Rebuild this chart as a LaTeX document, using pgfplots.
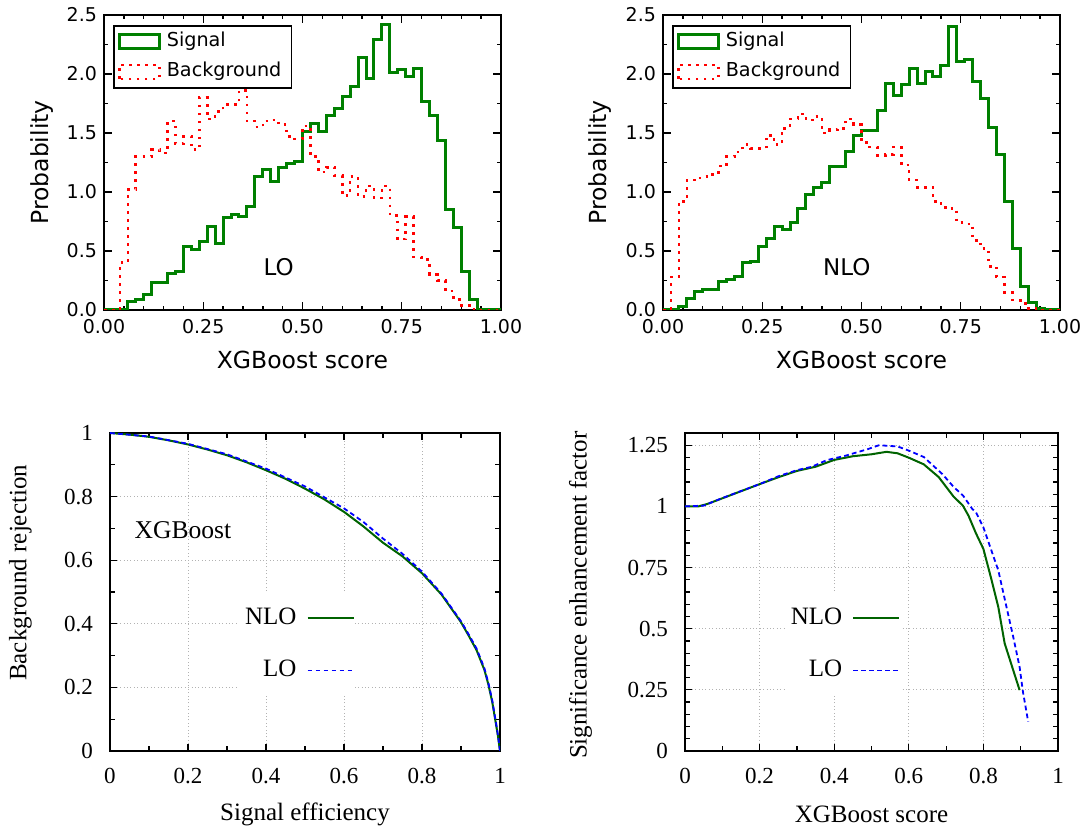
\documentclass[border=0pt]{standalone}
\usepackage{fontspec}
\usepackage{pgfplots}
\usepackage{pgfplotstable}
\pgfplotsset{compat=1.18}
\newfontfamily\djv{DejaVu Sans}
\newfontfamily\tms{Liberation Serif}
\definecolor{mplgreen}{rgb}{0,0.5,0}
\definecolor{gpgreen}{rgb}{0,0.39,0}

% left bin edge, signal LO, background LO, signal NLO, background NLO
\pgfplotstableread{
x    sl    bl    sn    bn
0.00 0     0     0     0
0.02 0     0     0     0.28
0.04 0     0.40  0.03  0.92
0.06 0.07  1.02  0.10  1.10
0.08 0.085 1.30  0.16  1.12
0.10 0.13  1.30  0.17  1.13
0.12 0.23  1.36  0.17  1.15
0.14 0.23  1.33  0.24  1.22
0.16 0.31  1.60  0.26  1.30
0.18 0.33  1.41  0.28  1.34
0.20 0.54  1.47  0.40  1.40
0.22 0.51  1.36  0.41  1.37
0.24 0.58  1.80  0.54  1.37
0.26 0.71  1.62  0.61  1.48
0.28 0.56  1.68  0.71  1.40
0.30 0.78  1.74  0.68  1.54
0.32 0.81  1.74  0.74  1.62
0.34 0.79  1.86  0.86  1.66
0.36 0.88  1.60  0.98  1.61
0.38 1.13  1.55  1.04  1.64
0.40 1.19  1.60  1.08  1.50
0.42 1.09  1.61  1.22  1.53
0.44 1.21  1.57  1.22  1.54
0.46 1.24  1.47  1.34  1.62
0.48 1.26  1.45  1.48  1.57
0.50 1.51  1.56  1.52  1.42
0.52 1.58  1.30  1.52  1.38
0.54 1.51  1.17  1.69  1.31
0.56 1.65  1.21  1.92  1.32
0.58 1.71  1.14  1.82  1.38
0.60 1.81  0.97  1.91  1.23
0.62 1.89  1.13  2.05  1.10
0.64 2.14  0.96  1.92  1.04
0.66 1.96  1.05  2.02  1.04
0.68 2.29  0.95  1.98  0.92
0.70 2.42  1.05  2.07  0.87
0.72 2.01  0.80  2.40  0.86
0.74 2.04  0.60  2.11  0.74
0.76 1.98  0.79  2.12  0.73
0.78 2.05  0.45  1.94  0.59
0.80 1.77  0.43  1.79  0.52
0.82 1.65  0.30  1.55  0.37
0.84 1.44  0.25  1.32  0.28
0.86 0.85  0.16  0.92  0.15
0.88 0.70  0.09  0.52  0.085
0.90 0.33  0.04  0.20  0.056
0.92 0.085 0.01  0.06  0.014
0.94 0     0     0.01  0
0.96 0     0     0.005 0
0.98 0     0     0.005 0
1.00 0     0     0     0
}\hist

\pgfplotstableread{
x     nlo
0     1.000
0.05  0.995
0.10  0.988
0.15  0.977
0.20  0.964
0.25  0.948
0.30  0.930
0.35  0.908
0.40  0.883
0.45  0.856
0.50  0.825
0.55  0.791
0.60  0.752
0.65  0.706
0.70  0.655
0.75  0.612
0.80  0.559
0.85  0.492
0.90  0.405
0.92  0.362
0.94  0.317
0.96  0.255
0.97  0.210
0.98  0.155
0.99  0.082
0.995 0.045
1.00  0.000
}\rocnlo

\pgfplotstableread{
x     lo
0     1.000
0.10  0.989
0.20  0.966
0.30  0.933
0.40  0.888
0.50  0.832
0.60  0.763
0.65  0.720
0.70  0.668
0.75  0.620
0.80  0.564
0.85  0.495
0.90  0.408
0.92  0.366
0.94  0.322
0.96  0.260
0.97  0.215
0.98  0.160
0.99  0.087
0.995 0.048
1.00  0.000
}\roclo

\pgfplotstableread{
x     nlo
0     1.000
0.036 1.000
0.06  1.010
0.10  1.033
0.15  1.062
0.20  1.091
0.25  1.119
0.30  1.145
0.35  1.162
0.40  1.190
0.45  1.205
0.50  1.213
0.54  1.223
0.57  1.217
0.60  1.199
0.64  1.172
0.68  1.120
0.72  1.040
0.745 1.003
0.76  0.962
0.78  0.890
0.80  0.826
0.82  0.710
0.84  0.588
0.857 0.440
0.88  0.330
0.897 0.249
}\signlo

\pgfplotstableread{
x     lo
0     1.000
0.05  1.003
0.10  1.034
0.20  1.091
0.25  1.123
0.30  1.148
0.34  1.162
0.38  1.189
0.43  1.207
0.49  1.234
0.52  1.250
0.57  1.245
0.60  1.228
0.64  1.202
0.69  1.132
0.72  1.080
0.746 1.043
0.77  0.990
0.78  0.976
0.80  0.914
0.82  0.826
0.84  0.738
0.862 0.588
0.88  0.466
0.897 0.344
0.906 0.242
0.92  0.120
}\siglo

\pgfplotsset{
  histax/.style={
    scale only axis, width=198.5pt, height=147.5pt,
    xmin=0, xmax=1, ymin=0, ymax=2.5,
    xtick={0,0.25,0.5,0.75,1}, xticklabels={0.00,0.25,0.50,0.75,1.00},
    ytick={0,0.5,1,1.5,2,2.5}, yticklabels={0.0,0.5,1.0,1.5,2.0,2.5},
    minor x tick num=4, minor y tick num=1,
    tick align=inside,
    axis line style={line width=1.1pt},
    major tick length=4pt, minor tick length=2pt,
    every tick/.style={black, line width=0.7pt},
    tick label style={font=\djv\fontsize{9.5}{11}\selectfont},
    xticklabel style={yshift=-1pt},
    label style={font=\djv\fontsize{11.75}{13}\selectfont},
    xlabel={XGBoost score}, ylabel={Probability},
    xlabel style={at={(axis description cs:0.5,-0.17)}, anchor=center},
    legend image code/.code={\draw[##1] (0pt,-3.5pt) rectangle (20pt,3.5pt);},
    legend cell align=left,
    legend style={at={(rel axis cs:0.0227,0.966)}, anchor=north west,
      draw=black, line width=0.8pt, inner xsep=2pt, inner ysep=1.5pt,
      font=\djv\fontsize{9.6}{11}\selectfont, row sep=2pt,
      nodes={inner xsep=3pt, inner ysep=2pt, text height=7pt, text depth=2pt}},
  },
  sigst/.style={mplgreen, line width=1.5pt, const plot},
  bkgst/.style={red, line width=1.3pt, dash pattern=on 1.3pt off 2.7pt, const plot},
  gpax/.style={
    scale only axis, height=159pt,
    xmin=0, xmax=1, ymin=0,
    xtick={0,0.2,0.4,0.6,0.8,1}, xticklabels={0,0.2,0.4,0.6,0.8,1},
    minor x tick num=1,
    tick align=inside,
    axis line style={line width=0.9pt},
    major tick length=3.5pt, minor tick length=2.5pt,
    every tick/.style={black, line width=0.6pt},
    grid=major, grid style={gray!60, line width=0.4pt, dash pattern=on 0.5pt off 1.2pt},
    tick label style={font=\tms\fontsize{11.5}{13}\selectfont},
    xticklabel style={yshift=-5pt},
    yticklabel style={xshift=-5pt},
    label style={font=\tms\fontsize{12.5}{14}\selectfont},
    xlabel style={at={(axis description cs:0.5,-0.2)}, anchor=center},
    legend plot pos=right,
    legend cell align=right,
    legend image code/.code={\draw[##1] (0pt,0pt) -- (23pt,0pt);},
    legend style={anchor=north east, draw=none, fill=white, inner sep=0pt,
      font=\tms\fontsize{12.5}{14}\selectfont, row sep=0pt, column sep=2pt,
      nodes={inner xsep=3pt, inner ysep=7pt, text height=9pt, text depth=3pt}},
  },
  nlost/.style={gpgreen, line width=1pt},
  lost/.style={blue, line width=0.9pt, dash pattern=on 2.4pt off 1.6pt},
}

\begin{document}
\begin{tikzpicture}
% top left: LO histograms
\begin{axis}[histax, at={(52pt,260pt)}, anchor=south west,
  ylabel style={at={(axis description cs:-0.157,0.5)}, anchor=center}]
\addplot[sigst] table[x=x, y=sl] {\hist};
\addlegendentry{Signal}
\addplot[bkgst] table[x=x, y=bl] {\hist};
\addlegendentry{Background}
\node[font=\djv\fontsize{11.5}{13}\selectfont] at (rel axis cs:0.44,0.146) {LO};
\end{axis}

% top right: NLO histograms
\begin{axis}[histax, at={(331.5pt,260pt)}, anchor=south west,
  ylabel style={at={(axis description cs:-0.159,0.5)}, anchor=center}]
\addplot[sigst] table[x=x, y=sn] {\hist};
\addlegendentry{Signal}
\addplot[bkgst] table[x=x, y=bn] {\hist};
\addlegendentry{Background}
\node[font=\djv\fontsize{11.5}{13}\selectfont] at (rel axis cs:0.463,0.146) {NLO};
\end{axis}

% bottom left: ROC
\begin{axis}[gpax, at={(55pt,39.5pt)}, anchor=south west, width=195pt,
  ymax=1, ytick={0,0.2,0.4,0.6,0.8,1}, yticklabels={0,0.2,0.4,0.6,0.8,1},
  minor y tick num=1,
  xlabel={Signal efficiency}, ylabel={Background rejection},
  ylabel style={at={(axis description cs:-0.23,0.56)}, anchor=center},
  legend style={at={(rel axis cs:0.628,0.5)}}]
\addplot[nlost] table[x=x, y=nlo] {\rocnlo};
\addlegendentry{NLO}
\addplot[lost] table[x=x, y=lo] {\roclo};
\addlegendentry{LO}
\node[font=\tms\fontsize{12.8}{14}\selectfont] at (rel axis cs:0.187,0.695) {XGBoost};
\end{axis}

% bottom right: significance enhancement
\begin{axis}[gpax, at={(342.5pt,39.5pt)}, anchor=south west, width=186.5pt,
  ymax=1.3, ytick={0,0.25,0.5,0.75,1,1.25}, yticklabels={0,0.25,0.5,0.75,1,1.25},
  minor y tick num=4,
  xlabel={XGBoost score}, ylabel={Significance enhancement factor},
  ylabel style={at={(axis description cs:-0.28,0.49)}, anchor=center},
  legend style={at={(rel axis cs:0.578,0.5)}}]
\addplot[nlost] table[x=x, y=nlo] {\signlo};
\addlegendentry{NLO}
\addplot[lost] table[x=x, y=lo] {\siglo};
\addlegendentry{LO}
\end{axis}

\pgfresetboundingbox
\path (0,0) rectangle (543pt,415pt);
\end{tikzpicture}
\end{document}
